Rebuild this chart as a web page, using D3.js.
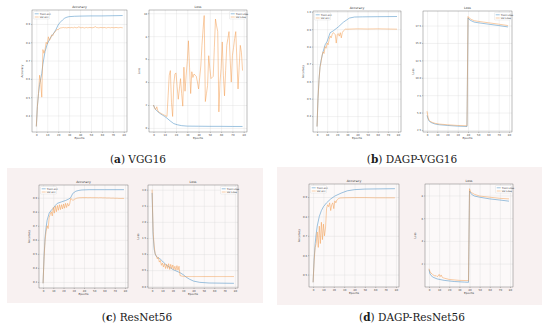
<!DOCTYPE html>
<html>
<head>
<meta charset="utf-8">
<script src="https://cdn.jsdelivr.net/npm/d3@7"></script>
<style>
body { margin: 0; background: #fff; }
svg { display: block; }
</style>
</head>
<body>
<svg id="fig" width="550" height="327"></svg>
<script>
// ---- data ----
let xTicks = [0, 10, 20, 30, 40, 50, 60, 70, 80]

// (a) VGG16
let aTrainAccEp = [0, 1, 2, 3, 4, 5, 6, 8, 10, 12, 14, 16, 18, 20, 22, 24, 26, 28, 30, 35, 40, 50, 60, 70, 79]
let aTrainAcc = [0.34, 0.45, 0.52, 0.57, 0.60, 0.63, 0.68, 0.75, 0.79, 0.815, 0.835, 0.85, 0.87, 0.895, 0.91, 0.922, 0.932, 0.937, 0.94, 0.942, 0.943, 0.944, 0.944, 0.945, 0.946]
let aValAcc = [0.34, 0.45, 0.52, 0.62, 0.58, 0.50, 0.76, 0.74, 0.76, 0.80,
  0.79, 0.83, 0.81, 0.82, 0.84, 0.835, 0.85, 0.855, 0.865, 0.87,
  0.868, 0.875, 0.878, 0.879, 0.88, 0.881, 0.879, 0.88, 0.878, 0.881,
  0.88, 0.879, 0.881, 0.88, 0.879, 0.882, 0.88, 0.879, 0.881, 0.885,
  0.88, 0.879, 0.881, 0.88, 0.878, 0.88, 0.881, 0.879, 0.88, 0.881,
  0.88, 0.879, 0.88, 0.882, 0.885, 0.881, 0.88, 0.879, 0.88, 0.881,
  0.88, 0.879, 0.881, 0.88, 0.878, 0.88, 0.881, 0.88, 0.879, 0.881,
  0.88, 0.879, 0.88, 0.881, 0.88, 0.879, 0.88, 0.881, 0.88, 0.879]
let aTrainLossEp = [0, 1, 2, 4, 6, 8, 10, 12, 15, 18, 21, 25, 30, 40, 50, 60, 70, 79]
let aTrainLoss = [2.0, 1.75, 1.6, 1.4, 1.25, 1.12, 1.0, 0.85, 0.6, 0.38, 0.28, 0.2, 0.16, 0.15, 0.14, 0.14, 0.13, 0.13]
let aValLoss = [2.0, 1.75, 1.6, 1.85, 1.45, 1.4, 1.3, 1.25, 1.2, 1.15,
  1.1, 1.05, 1.0, 2.8, 4.6, 5.0, 2.2, 1.0, 3.8, 4.7,
  4.8, 3.6, 2.5, 3.4, 4.3, 3.0, 1.9, 5.3, 3.2, 4.6,
  5.8, 7.6, 5.3, 3.0, 4.9, 4.4, 4.7, 4.6, 4.5, 4.0,
  3.4, 4.4, 5.4, 7.2, 8.6, 9.8, 2.3, 3.0, 3.7, 6.3,
  5.2, 4.3, 4.4, 4.5, 7.0, 9.5, 8.9, 8.4, 1.4, 4.0,
  5.2, 7.5, 4.6, 2.8, 5.0, 7.2, 7.8, 8.4, 6.0, 4.0,
  6.3, 7.0, 7.8, 8.4, 5.9, 3.4, 5.3, 7.2, 6.6, 5.0]

// (b) DAGP-VGG16
let bTrainAccEp = [0, 1, 2, 3, 4, 6, 8, 10, 13, 16, 21, 26, 32, 37, 45, 60, 79]
let bTrainAcc = [0.34, 0.50, 0.61, 0.685, 0.72, 0.77, 0.81, 0.83, 0.88, 0.89, 0.913, 0.94, 0.964, 0.97, 0.971, 0.972, 0.973]
let bValAccEp = [0, 1, 2, 3, 4, 5, 6, 7, 8, 9, 10, 11, 12, 13, 14, 15, 16, 17, 18, 19, 20, 21, 22, 23, 24, 25, 26, 27, 28, 30, 40, 50, 60, 70, 79]
let bValAcc = [0.34, 0.50, 0.61, 0.68, 0.71, 0.75, 0.77, 0.76, 0.80, 0.79, 0.82, 0.81, 0.84, 0.86, 0.85, 0.87, 0.88, 0.875, 0.87, 0.82, 0.87, 0.875, 0.86, 0.88, 0.85, 0.88, 0.89, 0.895, 0.90, 0.90, 0.902, 0.901, 0.902, 0.901, 0.9]
let bTrainLossEp = [0, 1, 2, 3, 5, 8, 12, 20, 30, 39, 40, 41, 43, 46, 50, 60, 70, 79]
let bTrainLoss = [4.6, 4.1, 3.8, 3.65, 3.5, 3.35, 3.25, 3.15, 3.05, 3.0, 18.6, 18.4, 18.2, 18.0, 17.9, 17.7, 17.5, 17.3]
let bValLossEp = [0, 1, 2, 3, 5, 8, 12, 20, 30, 39, 40, 41, 43, 46, 50, 60, 70, 79]
let bValLoss = [5.2, 4.3, 3.9, 3.75, 3.6, 3.45, 3.35, 3.25, 3.15, 3.1, 18.8, 18.6, 18.4, 18.2, 18.1, 17.9, 17.7, 17.5]

// (c) ResNet56
let cTrainAccEp = [0, 1, 2, 3, 4, 6, 8, 10, 12, 14, 18, 22, 25, 27, 29, 32, 35, 38, 45, 60, 79]
let cTrainAcc = [0.29, 0.48, 0.62, 0.69, 0.74, 0.79, 0.81, 0.825, 0.845, 0.86, 0.87, 0.88, 0.89, 0.90, 0.93, 0.946, 0.952, 0.955, 0.957, 0.957, 0.957]
let cValAcc = [0.29, 0.47, 0.60, 0.66, 0.70, 0.68, 0.76, 0.78, 0.80, 0.77,
  0.83, 0.79, 0.84, 0.80, 0.845, 0.81, 0.85, 0.815, 0.85, 0.82,
  0.855, 0.825, 0.86, 0.83, 0.86, 0.84, 0.855, 0.895, 0.89, 0.88,
  0.885, 0.89, 0.893, 0.897, 0.898, 0.899, 0.9, 0.9, 0.9, 0.901,
  0.9, 0.9, 0.901, 0.9, 0.9, 0.9, 0.901, 0.9, 0.9, 0.9,
  0.9, 0.9, 0.9, 0.9, 0.899, 0.9, 0.9, 0.9, 0.899, 0.899,
  0.899, 0.899, 0.898, 0.898, 0.898, 0.898, 0.897, 0.897, 0.897, 0.897,
  0.896, 0.896, 0.896, 0.896, 0.895, 0.895, 0.895, 0.895, 0.895, 0.895]
let cTrainLossEp = [0, 1, 2, 3, 4, 6, 8, 10, 14, 20, 27, 30, 33, 36, 40, 46, 55, 79]
let cTrainLoss = [2.9, 1.6, 1.15, 1.0, 0.93, 0.88, 0.84, 0.78, 0.65, 0.52, 0.42, 0.36, 0.28, 0.22, 0.16, 0.12, 0.1, 0.09]
let cValLoss = [3.0, 1.7, 1.25, 1.0, 0.95, 0.85, 0.9, 0.75, 0.8, 0.65,
  0.72, 0.6, 0.7, 0.55, 0.68, 0.55, 0.7, 0.52, 0.68, 0.55,
  0.66, 0.52, 0.62, 0.5, 0.64, 0.5, 0.62, 0.33, 0.32, 0.31,
  0.31, 0.3, 0.3, 0.3, 0.3, 0.3, 0.3, 0.3, 0.3, 0.3,
  0.3, 0.3, 0.3, 0.3, 0.3, 0.3, 0.3, 0.3, 0.3, 0.3,
  0.3, 0.3, 0.3, 0.3, 0.3, 0.3, 0.3, 0.3, 0.3, 0.3,
  0.3, 0.3, 0.3, 0.3, 0.3, 0.3, 0.3, 0.3, 0.3, 0.3,
  0.3, 0.3, 0.3, 0.3, 0.3, 0.3, 0.3, 0.3, 0.3, 0.3]

// (d) DAGP-ResNet56
let dTrainAccEp = [0, 1, 2, 3, 4, 6, 8, 10, 13, 17, 21, 27, 33, 40, 50, 79]
let dTrainAcc = [0.46, 0.58, 0.66, 0.71, 0.75, 0.80, 0.83, 0.85, 0.87, 0.89, 0.905, 0.92, 0.932, 0.938, 0.941, 0.943]
let dValAccEp = [0, 1, 2, 3, 4, 5, 6, 7, 8, 9, 10, 11, 12, 13, 14, 15, 16, 17, 18, 19, 20, 21, 22, 23, 24, 25, 26, 30, 40, 50, 60, 70, 79]
let dValAcc = [0.46, 0.57, 0.64, 0.66, 0.72, 0.64, 0.75, 0.66, 0.77, 0.68, 0.76, 0.70, 0.74, 0.84, 0.86, 0.85, 0.87, 0.83, 0.86, 0.87, 0.84, 0.88, 0.87, 0.885, 0.89, 0.893, 0.895, 0.896, 0.897, 0.897, 0.896, 0.896, 0.896]
let dTrainLossEp = [0, 1, 2, 4, 8, 15, 25, 35, 39, 40, 42, 45, 50, 60, 70, 79]
let dTrainLoss = [1.47, 1.1, 0.95, 0.8, 0.65, 0.52, 0.42, 0.37, 0.35, 8.4, 8.1, 7.95, 7.85, 7.7, 7.6, 7.5]
let dValLossEp = [0, 1, 2, 3, 4, 5, 6, 7, 8, 9, 10, 11, 12, 13, 14, 15, 20, 30, 39, 40, 41, 42, 45, 50, 60, 70, 79]
let dValLoss = [1.55, 1.3, 1.15, 1.1, 1.0, 0.95, 0.9, 0.95, 0.85, 0.9, 1.05, 0.85, 1.0, 0.8, 0.75, 0.72, 0.6, 0.52, 0.5, 8.6, 8.35, 8.25, 8.1, 7.95, 7.85, 7.75, 7.7]

let accTicksA = [0.4, 0.5, 0.6, 0.7, 0.8, 0.9]
let lossTicksA = [0, 2, 4, 6, 8, 10]
let accTicksB = [0.4, 0.5, 0.6, 0.7, 0.8, 0.9, 1.0]
let lossTicksB = [2.5, 5.0, 7.5, 10.0, 12.5, 15.0, 17.5]
let accTicksC = [0.3, 0.4, 0.5, 0.6, 0.7, 0.8, 0.9]
let lossTicksC = [0.0, 0.5, 1.0, 1.5, 2.0, 2.5, 3.0]
let accTicksD = [0.5, 0.6, 0.7, 0.8, 0.9]
let lossTicksD = [2, 4, 6, 8]

// ---- drawing ----
const blue = '#3a87c0'
const orange = '#f39a4c'
const svg = d3.select('#fig')

const pair = (ep, vals) => vals.map((v, i) => [ep ? ep[i] : i, v])

// pink backgrounds of the lower two figures
svg.append('rect').attr('x', 7).attr('y', 168).attr('width', 256).attr('height', 135).attr('fill', '#f8f1f1')
svg.append('rect').attr('x', 277).attr('y', 167).attr('width', 265).attr('height', 138).attr('fill', '#f8f1f1')

function plot(box, o) {
  let g = svg.append('g')
  let x = d3.scaleLinear().domain([-3.95, 82.95]).range([box.x0, box.x1])
  let all = o.train.concat(o.val).map(d => d[1])
  let ext = d3.extent(all)
  let pad = (ext[1] - ext[0]) * 0.05
  let y = d3.scaleLinear().domain([ext[0] - pad, ext[1] + pad]).range([box.y1, box.y0])
  let h = box.y1 - box.y0, w = box.x1 - box.x0

  g.append('rect').attr('x', box.x0).attr('y', box.y0).attr('width', w).attr('height', h)
    .attr('fill', o.pink ? '#fcf9f9' : '#fff')

  // grid
  g.append('g').attr('transform', 'translate(0,' + box.y1 + ')')
    .call(d3.axisBottom(x).tickValues(xTicks).tickSize(-h).tickFormat(''))
    .call(s => s.select('.domain').remove())
    .selectAll('line').attr('stroke', '#d9d9d9').attr('stroke-width', 0.35)
  g.append('g').attr('transform', 'translate(' + box.x0 + ',0)')
    .call(d3.axisLeft(y).tickValues(o.yTicks).tickSize(-w).tickFormat(''))
    .call(s => s.select('.domain').remove())
    .selectAll('line').attr('stroke', '#d9d9d9').attr('stroke-width', 0.35)

  // axes
  let xAx = g.append('g').attr('transform', 'translate(0,' + box.y1 + ')')
    .call(d3.axisBottom(x).tickValues(xTicks).tickSize(1).tickPadding(0.8).tickFormat(d3.format('d')))
  let yAx = g.append('g').attr('transform', 'translate(' + box.x0 + ',0)')
    .call(d3.axisLeft(y).tickValues(o.yTicks).tickSize(1).tickPadding(0.8).tickFormat(d3.format(o.fmt)))
  for (let ax of [xAx, yAx]) {
    ax.select('.domain').remove()
    ax.selectAll('line').attr('stroke', '#555').attr('stroke-width', 0.3)
    ax.selectAll('text').attr('font-size', '2.6px').attr('fill', '#444').attr('font-family', 'DejaVu Sans')
  }

  let line = d3.line().x(d => x(d[0])).y(d => y(d[1]))
  g.append('path').datum(o.train).attr('d', line).attr('fill', 'none').attr('stroke', blue).attr('stroke-width', 0.5)
  g.append('path').datum(o.val).attr('d', line).attr('fill', 'none').attr('stroke', orange).attr('stroke-width', 0.5)

  g.append('rect').attr('x', box.x0).attr('y', box.y0).attr('width', w).attr('height', h)
    .attr('fill', 'none').attr('stroke', '#444').attr('stroke-width', 0.35)

  g.append('text').attr('x', (box.x0 + box.x1) / 2).attr('y', box.y0 - 1.6)
    .attr('text-anchor', 'middle').attr('font-size', '3.2px').attr('font-family', 'DejaVu Sans').attr('fill', '#333')
    .text(o.title)
  g.append('text').attr('x', (box.x0 + box.x1) / 2).attr('y', box.y1 + 7)
    .attr('text-anchor', 'middle').attr('font-size', '2.8px').attr('font-family', 'DejaVu Sans').attr('fill', '#333')
    .text('Epochs')
  g.append('text').attr('transform', 'translate(' + (box.x0 - 9) + ',' + ((box.y0 + box.y1) / 2) + ') rotate(-90)')
    .attr('text-anchor', 'middle').attr('font-size', '2.8px').attr('font-family', 'DejaVu Sans').attr('fill', '#333')
    .text(o.ylabel)

  // legend
  let lw = 16, lh = 7.5
  let lx = o.legend === 'left' ? box.x0 + 1.5 : box.x1 - lw - 1.5
  let ly = box.y0 + 1.5
  let lg = g.append('g').attr('transform', 'translate(' + lx + ',' + ly + ')')
  lg.append('rect').attr('width', lw).attr('height', lh).attr('rx', 0.6)
    .attr('fill', '#fff').attr('fill-opacity', 0.85).attr('stroke', '#d0d0d0').attr('stroke-width', 0.3)
  o.names.forEach((n, i) => {
    lg.append('line').attr('x1', 1.2).attr('x2', 5.2).attr('y1', 2.3 + i * 3.2).attr('y2', 2.3 + i * 3.2)
      .attr('stroke', i ? orange : blue).attr('stroke-width', 0.5)
    lg.append('text').attr('x', 6.3).attr('y', 3.2 + i * 3.2).attr('font-size', '2.5px')
      .attr('font-family', 'DejaVu Sans').attr('fill', '#333').text(n)
  })
}

let accNames = ['Train acc', 'Val acc']
let lossNames = ['Train Loss', 'Val Loss']

plot({x0: 32, x1: 127, y0: 10, y1: 132}, {title: 'Accuracy', ylabel: 'Accuracy', yTicks: accTicksA, fmt: '.1f',
  train: pair(aTrainAccEp, aTrainAcc), val: pair(null, aValAcc), legend: 'left', names: accNames})
plot({x0: 149, x1: 247, y0: 10, y1: 132}, {title: 'Loss', ylabel: 'Loss', yTicks: lossTicksA, fmt: 'd',
  train: pair(aTrainLossEp, aTrainLoss), val: pair(null, aValLoss), legend: 'right', names: lossNames})
plot({x0: 313, x1: 401, y0: 11, y1: 132}, {title: 'Accuracy', ylabel: 'Accuracy', yTicks: accTicksB, fmt: '.1f',
  train: pair(bTrainAccEp, bTrainAcc), val: pair(bValAccEp, bValAcc), legend: 'left', names: accNames})
plot({x0: 423, x1: 512, y0: 11, y1: 132}, {title: 'Loss', ylabel: 'Loss', yTicks: lossTicksB, fmt: '.1f',
  train: pair(bTrainLossEp, bTrainLoss), val: pair(bValLossEp, bValLoss), legend: 'right', names: lossNames})
plot({x0: 39, x1: 128, y0: 185, y1: 288}, {title: 'Accuracy', ylabel: 'Accuracy', yTicks: accTicksC, fmt: '.1f', pink: true,
  train: pair(cTrainAccEp, cTrainAcc), val: pair(null, cValAcc), legend: 'left', names: accNames})
plot({x0: 148, x1: 238, y0: 185, y1: 288}, {title: 'Loss', ylabel: 'Loss', yTicks: lossTicksC, fmt: '.1f', pink: true,
  train: pair(cTrainLossEp, cTrainLoss), val: pair(null, cValLoss), legend: 'right', names: lossNames})
plot({x0: 309, x1: 399, y0: 184, y1: 287}, {title: 'Accuracy', ylabel: 'Accuracy', yTicks: accTicksD, fmt: '.1f', pink: true,
  train: pair(dTrainAccEp, dTrainAcc), val: pair(dValAccEp, dValAcc), legend: 'left', names: accNames})
plot({x0: 425, x1: 513, y0: 184, y1: 287}, {title: 'Loss', ylabel: 'Loss', yTicks: lossTicksD, fmt: 'd', pink: true,
  train: pair(dTrainLossEp, dTrainLoss), val: pair(dValLossEp, dValLoss), legend: 'right', names: lossNames})

// captions
let captions = [
  {x: 138, y: 163, tag: 'a', name: 'VGG16'},
  {x: 412, y: 163, tag: 'b', name: 'DAGP-VGG16'},
  {x: 137, y: 321, tag: 'c', name: 'ResNet56'},
  {x: 412, y: 321, tag: 'd', name: 'DAGP-ResNet56'}
]
captions.forEach(c => {
  let t = svg.append('text').attr('x', c.x).attr('y', c.y).attr('text-anchor', 'middle')
    .attr('font-family', 'DejaVu Serif').attr('font-size', '10.5px').attr('fill', '#1a1a1a')
  t.append('tspan').text('(')
  t.append('tspan').attr('font-weight', 'bold').text(c.tag)
  t.append('tspan').text(') ' + c.name)
})
</script>
</body>
</html>
